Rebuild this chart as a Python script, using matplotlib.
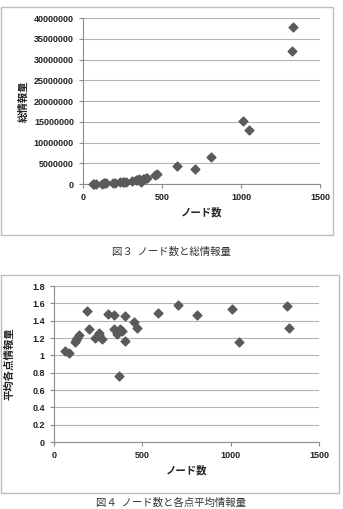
import matplotlib.pyplot as plt
from matplotlib.patches import Rectangle

# 図3 ノード数と総情報量
nodes3 = [62, 70, 85, 119, 130, 133, 145, 187, 200, 234, 253, 258, 270, 309, 338,
          343, 357, 366, 377, 387, 400, 402, 455, 470, 592, 708, 807, 1012, 1050, 1325, 1331]
total3 = [30000, 50000, 60000, 100000, 150000, 150000, 200000, 250000, 300000, 400000, 500000,
          550000, 600000, 800000, 900000, 1000000, 1100000, 500000, 1200000, 1300000,
          1500000, 1400000, 2100000, 2300000, 4300000, 3700000, 6600000, 15300000, 13000000,
          32100000, 37800000]

# 図4 ノード数と各点平均情報量
nodes4 = [62, 85, 119, 125, 130, 145, 187, 200, 234, 253, 258, 270, 309, 338, 343, 357,
          366, 377, 387, 400, 402, 455, 472, 592, 704, 809, 1009, 1045, 1321, 1332]
avg4 = [1.05, 1.03, 1.15, 1.18, 1.20, 1.23, 1.51, 1.31, 1.20, 1.26, 1.23, 1.19, 1.48, 1.47,
        1.31, 1.25, 0.76, 1.31, 1.28, 1.45, 1.17, 1.38, 1.32, 1.49, 1.58, 1.47, 1.53, 1.16,
        1.57, 1.32]

jp = ['Noto Sans CJK JP', 'DejaVu Sans']
tickfont = 'Liberation Sans'
mcol = '#5a5a5a'
gridcol = '#b3b3b3'
axcol = '#8c8c8c'

fig = plt.figure(figsize=(3.43, 5.09), dpi=100)

# 枠線
fig.patches.append(Rectangle((0.004, 0.538), 0.967, 0.448, transform=fig.transFigure,
                             fill=False, edgecolor='#bdbdbd', lw=1.0))
fig.patches.append(Rectangle((0.004, 0.031), 0.985, 0.429, transform=fig.transFigure,
                             fill=False, edgecolor='#bdbdbd', lw=1.0))


def style(ax, yticks, ylabels, ylab, ylab_x):
    ax.set_xlim(0, 1500)
    ax.set_xticks([0, 500, 1000, 1500])
    ax.set_yticks(yticks)
    ax.set_yticklabels(ylabels)
    ax.set_ylim(yticks[0], yticks[-1])
    ax.grid(axis='y', color=gridcol, lw=0.8)
    ax.set_axisbelow(True)
    for s in ['top', 'right']:
        ax.spines[s].set_visible(False)
    for s in ['left', 'bottom']:
        ax.spines[s].set_color(axcol)
        ax.spines[s].set_linewidth(0.8)
    ax.tick_params(colors=axcol, labelcolor='#222222', length=3, width=0.8, labelsize=6.5)
    for t in ax.get_xticklabels() + ax.get_yticklabels():
        t.set_fontfamily(tickfont)
        t.set_fontweight('bold')
    ax.set_xlabel('ノード数', family=jp, fontsize=7.5, fontweight='bold', color='#222222', labelpad=4)
    ax.set_ylabel(ylab, family=jp, fontsize=7.5, fontweight='bold', color='#222222')
    ax.yaxis.set_label_coords(ylab_x, 0.5)


ax1 = fig.add_axes([0.242, 0.6385, 0.691, 0.326])
ax1.scatter(nodes3, total3, marker='D', s=20, color=mcol, zorder=3, clip_on=False)
yt1 = [0, 5000000, 10000000, 15000000, 20000000, 25000000, 30000000, 35000000, 40000000]
style(ax1, yt1, [str(v) for v in yt1], '総情報量', -0.23)

ax2 = fig.add_axes([0.157, 0.1316, 0.773, 0.3064])
ax2.scatter(nodes4, avg4, marker='D', s=20, color=mcol, zorder=3, clip_on=False)
yt2 = [0, 0.2, 0.4, 0.6, 0.8, 1.0, 1.2, 1.4, 1.6, 1.8]
style(ax2, yt2, ['0', '0.2', '0.4', '0.6', '0.8', '1', '1.2', '1.4', '1.6', '1.8'],
      '平均各点情報量', -0.15)

fig.text(0.50, 0.505, '図３  ノード数と総情報量', family=jp, fontsize=7.5, color='#333333',
         ha='center', va='center')
fig.text(0.50, 0.002, '図４  ノード数と各点平均情報量', family=jp, fontsize=7.5, color='#333333',
         ha='center', va='bottom')

fig.savefig('out.png', dpi=100)
